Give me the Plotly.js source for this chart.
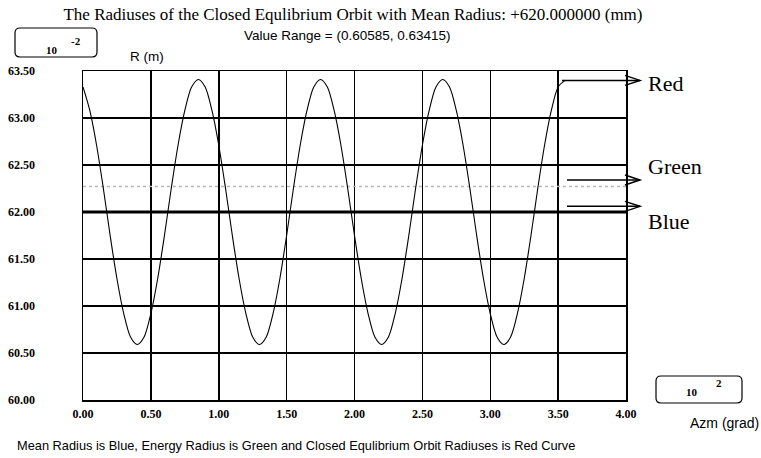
<!DOCTYPE html>
<html>
<head>
<meta charset="utf-8">
<script src="https://cdn.plot.ly/plotly-3.0.1.min.js"></script>
<style>html,body{margin:0;padding:0;background:#fff;}#chart{width:761px;height:458px;}</style>
</head>
<body>
<div id="chart"></div>
<script>
// ---- data ----
const azm = [0.00,0.05,0.10,0.15,0.20,0.25,0.30,0.35,0.40,0.45,0.50,0.55,0.60,0.65,0.70,0.75,0.80,0.85,
             0.90,0.95,1.00,1.05,1.10,1.15,1.20,1.25,1.30,1.35,1.40,1.45,1.50,1.55,1.60,1.65,1.70,1.75,
             1.80,1.85,1.90,1.95,2.00,2.05,2.10,2.15,2.20,2.25,2.30,2.35,2.40,2.45,2.50,2.55,2.60,2.65,
             2.70,2.75,2.80,2.85,2.90,2.95,3.00,3.05,3.10,3.15,3.20,3.25,3.30,3.35,3.40,3.45,3.50,3.55];
const redRadius = [63.33,63.08,62.71,62.25,61.75,61.29,60.92,60.67,60.59,60.67,60.92,61.29,61.75,62.25,62.71,63.08,63.33,63.41,
                   63.33,63.08,62.71,62.25,61.75,61.29,60.92,60.67,60.59,60.67,60.92,61.29,61.75,62.25,62.71,63.08,63.33,63.41,
                   63.33,63.08,62.71,62.25,61.75,61.29,60.92,60.67,60.59,60.67,60.92,61.29,61.75,62.25,62.71,63.08,63.33,63.41,
                   63.33,63.08,62.71,62.25,61.75,61.29,60.92,60.67,60.59,60.67,60.92,61.29,61.75,62.25,62.71,63.08,63.33,63.40];
const lineAzm = [0.00, 4.00];
const meanRadius = [62.00, 62.00];
const energyRadius = [62.27, 62.27];
const yTicks = [60.00,60.50,61.00,61.50,62.00,62.50,63.00,63.50];
const xTicks = [0.00,0.50,1.00,1.50,2.00,2.50,3.00,3.50,4.00];
const legendNames = ['Red','Green','Blue'];
const arrowLevels = [63.40, 62.34, 62.06];

// ---- geometry helpers (pixel -> paper) ----
const L = 83, R = 626, T = 71, B = 400;
const fx = p => (p - L) / (R - L);
const fy = p => (B - p) / (B - T);
function roundRect(x0, y0, x1, y1, r) {
  const P = (x, y) => fx(x) + ',' + fy(y);
  return 'M' + P(x0 + r, y0) + ' L' + P(x1 - r, y0) + ' Q' + P(x1, y0) + ' ' + P(x1, y0 + r) +
         ' L' + P(x1, y1 - r) + ' Q' + P(x1, y1) + ' ' + P(x1 - r, y1) +
         ' L' + P(x0 + r, y1) + ' Q' + P(x0, y1) + ' ' + P(x0, y1 - r) +
         ' L' + P(x0, y0 + r) + ' Q' + P(x0, y0) + ' ' + P(x0 + r, y0) + ' Z';
}
const yPix = v => B - (v - 60) / 3.5 * (B - T);

const serif = 'Liberation Serif, Times New Roman, serif';
const sans = 'Liberation Sans, Arial, sans-serif';

const traces = [
  {x: lineAzm, y: energyRadius, mode: 'lines', line: {color: '#b8b8b8', width: 1.5, dash: 'dot'}, hoverinfo: 'skip'},
  {x: lineAzm, y: meanRadius, mode: 'lines', line: {color: '#000', width: 3}, hoverinfo: 'skip'},
  {x: azm, y: redRadius, mode: 'lines', line: {color: '#000', width: 1.1, shape: 'spline', smoothing: 0.8}, hoverinfo: 'skip'}
];

const shapes = [
  {type: 'path', xref: 'paper', yref: 'paper', path: roundRect(15, 28, 97, 57, 5), line: {color: '#000', width: 1.2}},
  {type: 'path', xref: 'paper', yref: 'paper', path: roundRect(656, 376, 742, 403, 5), line: {color: '#000', width: 1.2}}
];
const tails = [562, 567, 567];
const annotations = [];
arrowLevels.forEach((lv, i) => {
  const yp = yPix(lv);
  shapes.push({type: 'line', xref: 'paper', yref: 'paper', x0: fx(tails[i]), x1: fx(640), y0: fy(yp), y1: fy(yp), line: {color: '#000', width: 1.5}});
  shapes.push({type: 'path', xref: 'paper', yref: 'paper',
    path: 'M' + fx(625) + ',' + fy(yp - 5) + ' L' + fx(640) + ',' + fy(yp) + ' L' + fx(625) + ',' + fy(yp + 5),
    line: {color: '#000', width: 1.5}});
});
const labelY = [83, 166, 221];
legendNames.forEach((n, i) => {
  annotations.push({text: n, xref: 'paper', yref: 'paper', x: fx(646), y: fy(labelY[i]), xanchor: 'left', yanchor: 'middle',
    showarrow: false, font: {family: serif, size: 22, color: '#000'}});
});
const ann = (text, x, y, font, xa) => annotations.push({text, xref: 'paper', yref: 'paper', x: fx(x), y: fy(y),
  xanchor: xa || 'center', yanchor: 'middle', showarrow: false, font});
ann('Value Range = (0.60585, 0.63415)', 347, 36, {family: sans, size: 13.5, color: '#000'});
ann('R (m)', 147, 57, {family: sans, size: 13.5, color: '#000'});
ann('10', 52, 50, {family: serif, size: 11, color: '#000', weight: 'bold'});
ann('-2', 76, 41, {family: serif, size: 11, color: '#000', weight: 'bold'});
ann('10', 692, 392, {family: serif, size: 11, color: '#000', weight: 'bold'});
ann('2', 719, 383, {family: serif, size: 11, color: '#000', weight: 'bold'});
ann('Azm (grad)', 688, 423, {family: sans, size: 14, color: '#000'}, 'left');
ann('Mean Radius is Blue, Energy Radius is Green and Closed Equlibrium Orbit Radiuses is Red Curve', 15, 445,
    {family: sans, size: 12.8, color: '#000'}, 'left');

const layout = {
  width: 761, height: 458,
  margin: {l: L, r: 761 - R, t: T, b: 458 - B, pad: 0},
  paper_bgcolor: '#fff', plot_bgcolor: '#fff',
  showlegend: false,
  title: {text: 'The Radiuses of the Closed Equlibrium Orbit with Mean Radius: +620.000000 (mm)',
    x: 353 / 761, xanchor: 'center', y: 1 - 14 / 458, yanchor: 'middle', font: {family: serif, size: 17, color: '#000'}},
  xaxis: {range: [0, 4], tickvals: xTicks, ticktext: xTicks.map(v => v.toFixed(2)), ticks: '',
    showgrid: true, gridcolor: '#000', gridwidth: 1.5, zeroline: false,
    showline: true, linecolor: '#000', linewidth: 1.5, mirror: true,
    tickfont: {family: serif, size: 12, color: '#000', weight: 'bold'}, ticklabelstandoff: 2},
  yaxis: {range: [60, 63.5], tickvals: yTicks, ticktext: yTicks.map(v => v.toFixed(2)), ticks: '',
    showgrid: true, gridcolor: '#000', gridwidth: 1.5, zeroline: false,
    showline: true, linecolor: '#000', linewidth: 1.5, mirror: true,
    tickfont: {family: serif, size: 12, color: '#000', weight: 'bold'}, ticklabelstandoff: 44},
  shapes, annotations
};
Plotly.newPlot('chart', traces, layout, {displayModeBar: false, staticPlot: true});
</script>
</body>
</html>
